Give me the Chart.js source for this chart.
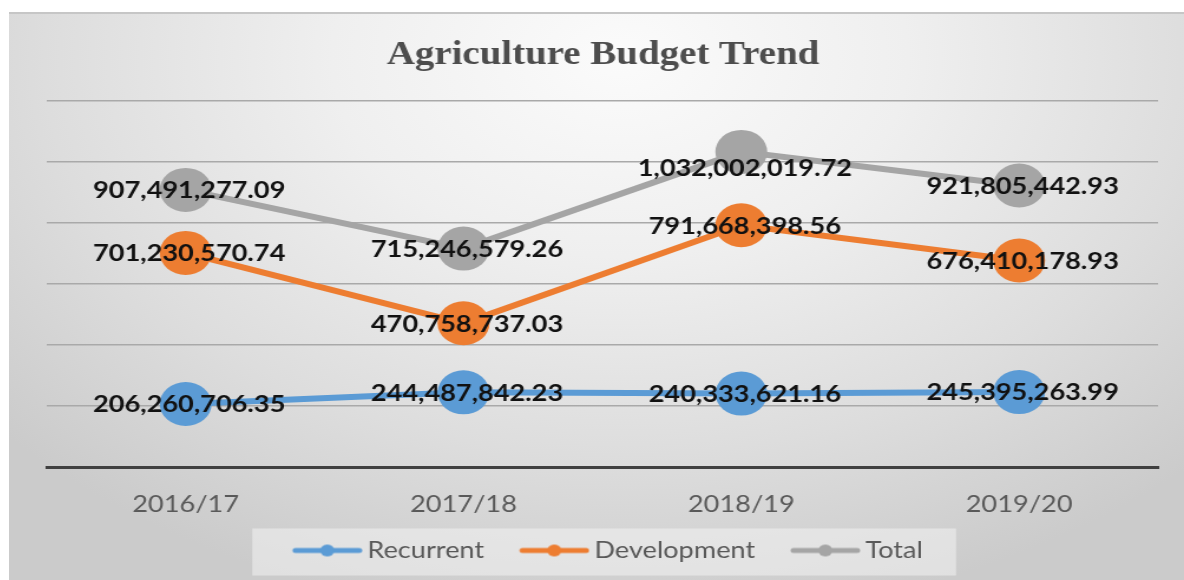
<!DOCTYPE html>
<html>
<head>
<meta charset="utf-8">
<title>Agriculture Budget Trend</title>
<script src="https://cdn.jsdelivr.net/npm/chart.js@4.4.1/dist/chart.umd.min.js"></script>
<style>
  html, body { margin: 0; padding: 0; background: #fff; }
  body { width: 1184px; height: 580px; overflow: hidden; position: relative; }
  #frame {
    position: absolute; left: 9px; top: 12px; width: 1175px; height: 568px;
    background: radial-gradient(ellipse 70% 100% at 52% 8%, #fbfbfb 0%, #efefef 35%, #dddddd 70%, #cbcbcb 100%);
    box-shadow: inset 0 2px 0 #c6c6c6;
  }
  /* the chart is laid out narrow and widened, like the stretched original */
  #budget { position: absolute; left: 0; top: 0; transform: scaleX(1.1797); transform-origin: 0 0; }
</style>
</head>
<body>
<div id="frame"><canvas id="budget" width="996" height="568"></canvas></div>
<script>
const years = ['2016/17', '2017/18', '2018/19', '2019/20'];
const recurrent = [206260706.35, 244487842.23, 240333621.16, 245395263.99];
const development = [701230570.74, 470758737.03, 791668398.56, 676410178.93];
const total = [907491277.09, 715246579.26, 1032002019.72, 921805442.93];
const yMax = 1200000000;
const yStep = 200000000;

const colors = { recurrent: '#5b9bd5', development: '#ed7d31', total: '#a5a5a5' };

// legend swatch: transparent lead-in on the left, then the line with its dot
const ICON_BOX = 60;
function legendIcon(color) {
  const c = document.createElement('canvas');
  c.width = ICON_BOX + 15; c.height = 14;
  const g = c.getContext('2d');
  g.strokeStyle = color; g.lineWidth = 5; g.lineCap = 'round';
  g.beginPath(); g.moveTo(18, 7); g.lineTo(c.width - 3, 7); g.stroke();
  g.fillStyle = color;
  g.beginPath(); g.arc((18 + c.width - 3) / 2, 7, 6, 0, Math.PI * 2); g.fill();
  return c;
}

// extra vertical shift for a few value labels
const labelShift = { Total: [0, 0, 16, 0] };

const money = v => v.toLocaleString('en-US', { minimumFractionDigits: 2, maximumFractionDigits: 2 });

const valueLabels = {
  id: 'valueLabels',
  afterDatasetsDraw(chart) {
    const ctx = chart.ctx;
    ctx.save();
    ctx.font = 'bold 23px Lato';
    ctx.fillStyle = '#111';
    ctx.textAlign = 'center';
    ctx.textBaseline = 'middle';
    chart.data.datasets.forEach((ds, i) => {
      const shift = labelShift[ds.label] || [];
      chart.getDatasetMeta(i).data.forEach((pt, j) => {
        ctx.fillText(money(ds.data[j]), pt.x + 3, pt.y + 1 + (shift[j] || 0));
      });
    });
    ctx.restore();
  }
};

const legendPanel = {
  id: 'legendPanel',
  beforeDraw(chart) {
    const boxes = chart.legend.legendHitBoxes;
    if (!boxes || !boxes.length) return;
    const first = boxes[0], last = boxes[boxes.length - 1];
    const cy = first.top + first.height / 2;
    const x0 = first.left - 26;
    const ctx = chart.ctx;
    ctx.save();
    ctx.fillStyle = 'rgba(242,242,242,0.55)';
    ctx.fillRect(x0, cy - 22, last.left + last.width + 28 - x0, 47);
    ctx.restore();
  }
};

function makeSeries(label, data, color) {
  return {
    label, data,
    borderColor: color, backgroundColor: color,
    borderWidth: 6,
    pointRadius: 22, pointHoverRadius: 22,
    pointBackgroundColor: color, pointBorderWidth: 0,
    tension: 0
  };
}

Promise.all([
  document.fonts.load('bold 23px Lato'),
  document.fonts.load('23px Lato'),
  document.fonts.load('bold 33px "Liberation Serif"')
]).catch(() => {}).then(() => {
  const icons = [legendIcon(colors.recurrent), legendIcon(colors.development), legendIcon(colors.total)];

  new Chart(document.getElementById('budget'), {
    type: 'line',
    data: {
      labels: years,
      datasets: [
        makeSeries('Recurrent', recurrent, colors.recurrent),
        makeSeries('Development', development, colors.development),
        makeSeries('Total', total, colors.total)
      ]
    },
    options: {
      responsive: false,
      animation: false,
      events: [],
      layout: { padding: { left: 32, right: 21, top: 0, bottom: 8 } },
      scales: {
        x: {
          offset: true,
          grid: { display: false, drawTicks: false },
          border: { display: true, color: '#404040', width: 3 },
          ticks: { color: '#595959', font: { family: 'Lato', size: 23 }, padding: 24 },
          afterFit(scale) { scale.height = 50; }
        },
        y: {
          min: 0, max: yMax,
          ticks: { display: false, stepSize: yStep },
          grid: {
            drawTicks: false, lineWidth: 1.5,
            color: c => c.tick && c.tick.value === 0 ? 'rgba(0,0,0,0)' : '#a9a9a9'
          },
          border: { display: false },
          afterFit(scale) { scale.width = 0; }
        }
      },
      plugins: {
        title: {
          display: true,
          text: 'Agriculture Budget Trend',
          color: '#4d4d4d',
          font: { family: 'Liberation Serif', size: 33, weight: 'bold', lineHeight: 1.2 },
          padding: { top: 24, bottom: 25 }
        },
        legend: {
          position: 'bottom',
          labels: {
            usePointStyle: true,
            pointStyleWidth: ICON_BOX,
            padding: 22,
            color: '#595959',
            font: { family: 'Lato', size: 23 },
            generateLabels(chart) {
              const items = Chart.defaults.plugins.legend.labels.generateLabels(chart);
              items.forEach(it => { it.pointStyle = icons[it.datasetIndex]; });
              return items;
            }
          }
        },
        tooltip: { enabled: false }
      }
    },
    plugins: [legendPanel, valueLabels]
  });
});
</script>
</body>
</html>
